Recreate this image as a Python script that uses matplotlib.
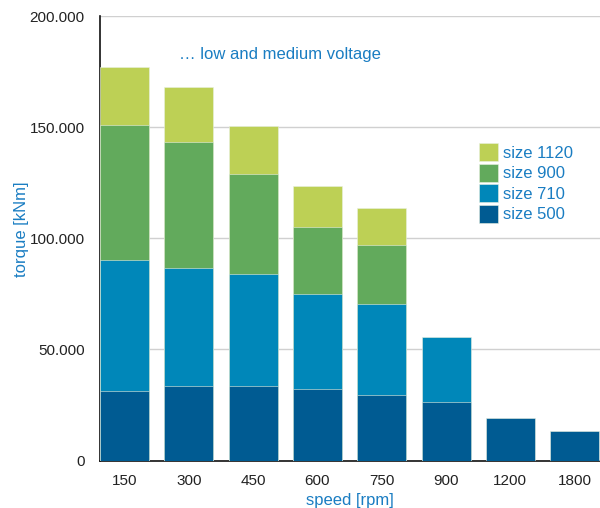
import numpy as np
import matplotlib
matplotlib.use('Agg')
import matplotlib.pyplot as plt
from matplotlib.patches import Patch

plt.rcParams['font.family'] = ['Liberation Sans', 'DejaVu Sans']

speeds = ['150', '300', '450', '600', '750', '900', '1200', '1800']
# max torque [kNm] per frame size (top of each coloured block), nan = not available
size_500 = [31400, 33500, 33500, 32200, 29300, 26300, 19000, 13300]
size_710 = [90400, 86800, 83900, 74900, 70600, 55600, np.nan, np.nan]
size_900 = [150800, 143500, 128800, 105200, 97100, np.nan, np.nan, np.nan]
size_1120 = [177000, 168200, 150500, 123700, 113800, np.nan, np.nan, np.nan]

names = ['size 1120', 'size 900', 'size 710', 'size 500']
colors = ['#bdd055', '#62aa5c', '#0087b9', '#005b92']
blue = '#1a7dc2'

fig = plt.figure(figsize=(6, 5.08), dpi=100)
ax = fig.add_axes([0.1667, 0.0935, 0.8333, 0.875])

x = np.arange(len(speeds))
w = 0.762
for vals, c in zip([size_1120, size_900, size_710, size_500], colors):
    ax.bar(x, vals, width=w, color=c, edgecolor='#e8f0e0', linewidth=0.4, zorder=3)

ax.set_xlim(-0.381, 7.395)
ax.set_ylim(0, 200000)
ax.set_yticks(np.arange(0, 200001, 50000))
ax.set_yticklabels(['0', '50.000', '100.000', '150.000', '200.000'])
ax.set_xticks(x)
ax.set_xticklabels(speeds)
ax.tick_params(axis='both', length=0, labelsize=11, colors='#222222')
ax.tick_params(axis='y', pad=11)
ax.tick_params(axis='x', pad=10)

ax.grid(axis='y', color='#d0d0d0', linewidth=1, zorder=0)
ax.spines['top'].set_visible(False)
ax.spines['right'].set_visible(False)
ax.spines['left'].set_color('#111111')
ax.spines['bottom'].set_color('#111111')
ax.spines['left'].set_linewidth(1.2)
ax.spines['bottom'].set_linewidth(1.2)

ax.set_xlabel('speed [rpm]', color=blue, fontsize=12)
ax.xaxis.set_label_coords(0.5, -0.074)
ax.set_ylabel('torque [kNm]', color=blue, fontsize=12)
ax.yaxis.set_label_coords(-0.142, 0.52)

ax.text(0.157, 0.914, '\u2026 low and medium voltage', transform=ax.transAxes,
        color=blue, fontsize=12, ha='left', va='center')

handles = [Patch(facecolor=c, edgecolor='#e8f0e0', linewidth=0.4) for c in colors]
leg = ax.legend(handles, names, loc='upper left', bbox_to_anchor=(0.745, 0.729),
                frameon=False, fontsize=12, handlelength=1.1, handleheight=1.3,
                handletextpad=0.35, labelspacing=0.14, borderaxespad=0)
for t in leg.get_texts():
    t.set_color(blue)

fig.savefig('out.png', dpi=100)
